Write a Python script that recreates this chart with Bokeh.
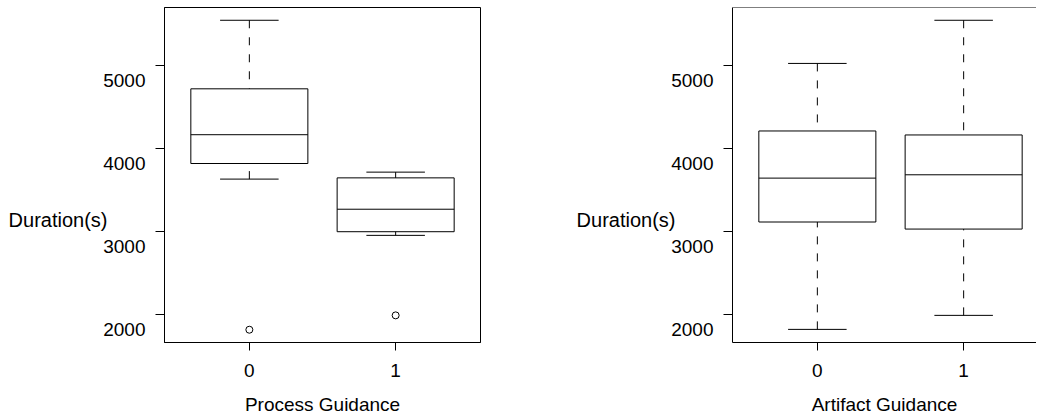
import numpy as np
from bokeh.plotting import figure
from bokeh.layouts import row
from bokeh.models import Range1d, LinearAxis, FixedTicker, Span, CustomJSTickFormatter
from bokeh.embed import file_html
from bokeh.resources import INLINE

# ---- data ----
groups = [0, 1]
y_ticks = [2000, 3000, 4000, 5000]
y_title = "Duration(s)"

pg_low = [3630, 2952]
pg_q1 = [3818, 2996]
pg_med = [4165, 3267]
pg_q3 = [4718, 3645]
pg_high = [5544, 3714]
pg_out_x = [0, 1]
pg_out_y = [1815, 1988]

ag_low = [1819, 1988]
ag_q1 = [3113, 3028]
ag_med = [3642, 3682]
ag_q3 = [4210, 4162]
ag_high = [5024, 5544]
ag_out_x = []
ag_out_y = []

Y_MIN, Y_MAX = 1661, 5698
FONT = "Liberation Sans"
FS = "19px"
FS_TITLE = "20px"
BOX_W = 0.8
CAP_W = 0.4
LABEL_SHIFT = 180
TITLE_Y = 3140


def make(xlabel, low, q1, med, q3, high, ox, oy, x_end, width, b_left, b_right, outline):
    p = figure(width=width, height=418,
               x_range=Range1d(-0.58, x_end), y_range=Range1d(Y_MIN, Y_MAX),
               output_backend="svg", toolbar_location=None,
               min_border_left=b_left, min_border_right=b_right,
               min_border_top=7, min_border_bottom=76)
    p.grid.visible = False
    p.background_fill_color = "white"
    p.border_fill_color = "white"
    p.outline_line_color = "black" if outline else None
    p.outline_line_width = 1

    g = np.array(groups, dtype=float)
    lw = 1
    # whiskers (dashed), drawn from the whisker end toward the box
    p.segment(x0=g, y0=high, x1=g, y1=q3, line_color="black", line_width=lw, line_dash="8 9")
    p.segment(x0=g, y0=low, x1=g, y1=q1, line_color="black", line_width=lw, line_dash="8 9")
    # caps
    p.segment(x0=g - CAP_W / 2, y0=high, x1=g + CAP_W / 2, y1=high, line_color="black", line_width=lw)
    p.segment(x0=g - CAP_W / 2, y0=low, x1=g + CAP_W / 2, y1=low, line_color="black", line_width=lw)
    # boxes
    p.quad(left=g - BOX_W / 2, right=g + BOX_W / 2, bottom=q1, top=q3,
           fill_color=None, line_color="black", line_width=lw)
    # medians
    p.segment(x0=g - BOX_W / 2, y0=med, x1=g + BOX_W / 2, y1=med, line_color="black", line_width=lw)
    # outliers
    if len(ox):
        p.scatter(x=ox, y=oy, marker="circle", size=7, fill_color=None,
                  line_color="black", line_width=1)

    # x axis
    xa = p.xaxis[0]
    xa.ticker = FixedTicker(ticks=groups)
    xa.minor_tick_line_color = None
    xa.major_tick_out = 8
    xa.major_tick_in = 0
    xa.major_label_standoff = 13
    xa.major_label_text_font = FONT
    xa.major_label_text_font_size = FS
    xa.major_label_text_color = "black"
    xa.axis_label = xlabel
    xa.axis_label_text_font = FONT
    xa.axis_label_text_font_size = FS
    xa.axis_label_text_font_style = "normal"
    xa.axis_label_text_color = "black"
    xa.axis_label_standoff = 14
    xa.axis_line_color = "black"
    xa.major_tick_line_color = "black"

    # inner y axis: line + ticks only
    ya = p.yaxis[0]
    ya.ticker = FixedTicker(ticks=y_ticks)
    ya.formatter = CustomJSTickFormatter(code="return ''")
    ya.minor_tick_line_color = None
    ya.major_tick_out = 9
    ya.major_tick_in = 0
    ya.major_label_standoff = 0
    ya.axis_line_color = "black"
    ya.major_tick_line_color = "black"

    # second y axis: tick labels only, set slightly below their ticks as in the reference
    p.extra_y_ranges = {"lbl": Range1d(Y_MIN + LABEL_SHIFT, Y_MAX + LABEL_SHIFT)}
    la = LinearAxis(y_range_name="lbl", ticker=FixedTicker(ticks=y_ticks),
                    major_tick_out=0, major_tick_in=0, minor_tick_out=0, minor_tick_in=0,
                    axis_line_color=None, major_tick_line_color=None, minor_tick_line_color=None,
                    major_label_standoff=10, major_label_text_font=FONT,
                    major_label_text_font_size=FS, major_label_text_color="black")
    p.add_layout(la, "left")

    # third y axis: horizontal y title
    ta = LinearAxis(ticker=FixedTicker(ticks=[TITLE_Y]),
                    formatter=CustomJSTickFormatter(code="return %r" % y_title),
                    major_tick_out=0, major_tick_in=0, minor_tick_out=0, minor_tick_in=0,
                    axis_line_color=None, major_tick_line_color=None, minor_tick_line_color=None,
                    major_label_standoff=-7, major_label_text_font=FONT,
                    major_label_text_font_size=FS_TITLE, major_label_text_color="black")
    p.add_layout(ta, "left")

    if not outline:
        p.add_layout(Span(location=Y_MAX, dimension="width", line_color="black", line_width=1))
    return p


p1 = make("Process Guidance", pg_low, pg_q1, pg_med, pg_q3, pg_high, pg_out_x, pg_out_y,
          x_end=1.58, width=492, b_left=164, b_right=12, outline=True)
p2 = make("Artifact Guidance", ag_low, ag_q1, ag_med, ag_q3, ag_high, ag_out_x, ag_out_y,
          x_end=1.498, width=544, b_left=240, b_right=0, outline=False)

layout = row(p1, p2)
open("out.html", "w").write(file_html(layout, INLINE))
